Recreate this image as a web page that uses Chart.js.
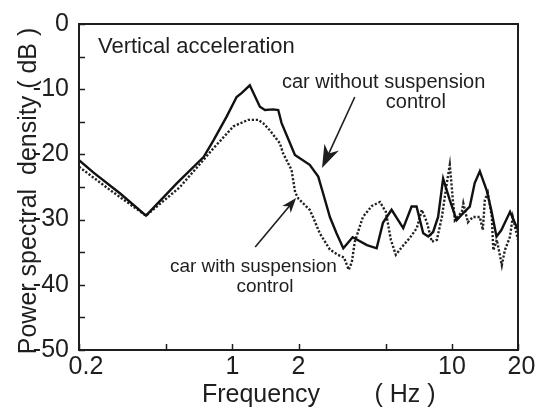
<!DOCTYPE html>
<html>
<head>
<meta charset="utf-8">
<script src="https://cdn.jsdelivr.net/npm/chart.js@4.4.1/dist/chart.umd.min.js"></script>
<style>
  html, body { margin: 0; padding: 0; background: #fff; }
  #wrap { width: 539px; height: 413px; }
</style>
</head>
<body>
<div id="wrap"><canvas id="psd" width="539" height="413"></canvas></div>
<script>
/* ===== PSD of vertical acceleration, with / without suspension control ===== */

// car without suspension control (solid)
const freqWithout = [0.2, 0.233, 0.308, 0.404, 0.559, 0.739, 0.821, 0.941, 1.045, 1.10, 1.20, 1.334, 1.406, 1.534, 1.617, 1.675, 1.83, 1.926, 2.25, 2.46, 2.59, 2.78, 2.98, 3.2, 3.53, 4.10, 4.54, 4.85, 5.31, 6.0, 6.55, 6.90, 7.40, 7.80, 8.21, 8.65, 9.12, 9.78, 10.5, 11.25, 12.06, 12.7, 13.4, 14.4, 15.1, 15.96, 16.8, 18.4, 20];
const dbWithout   = [-20.9, -22.8, -26.0, -29.4, -24.4, -20.4, -17.8, -14.2, -11.2, -10.6, -9.4, -12.7, -13.2, -13.1, -13.2, -15.2, -18.3, -20.1, -21.6, -23.4, -26.0, -29.6, -32.1, -34.4, -32.7, -33.9, -34.4, -30.5, -28.5, -31.3, -28.0, -28.0, -32.1, -32.6, -31.9, -29.6, -23.7, -27.0, -30.1, -29.0, -28.0, -24.4, -22.6, -25.5, -28.5, -32.6, -31.6, -28.8, -31.6];

// car with suspension control (dotted)
const freqWith = [0.2, 0.278, 0.404, 0.577, 0.818, 1.01, 1.18, 1.31, 1.38, 1.48, 1.645, 1.70, 1.86, 1.93, 2.0, 2.25, 2.33, 2.50, 2.78, 3.02, 3.22, 3.39, 3.50, 3.61, 3.93, 4.32, 4.70, 5.00, 5.27, 5.55, 5.92, 6.43, 6.92, 7.29, 7.69, 8.10, 8.54, 9.00, 9.48, 9.78, 10.10, 10.31, 11.10, 11.27, 11.82, 12.45, 13.40, 13.83, 14.12, 14.57, 15.20, 15.44, 16.02, 16.88, 17.42, 18.36, 18.94, 20];
const dbWith   = [-21.9, -25.5, -29.4, -25.0, -19.1, -15.7, -14.7, -14.7, -15.2, -16.3, -18.3, -19.8, -22.4, -25.8, -26.8, -28.5, -29.6, -32.1, -34.6, -35.4, -35.8, -37.7, -36.5, -33.4, -29.6, -27.9, -27.3, -28.8, -33.1, -35.4, -34.2, -32.8, -31.3, -28.5, -30.4, -33.4, -33.1, -29.6, -24.4, -21.6, -27.0, -30.1, -28.8, -27.5, -30.4, -29.6, -29.6, -31.6, -27.0, -25.9, -29.6, -34.7, -33.1, -37.0, -34.7, -32.7, -29.6, -33.1];

// axes
const xTickValues = [0.2, 0.5, 1, 2, 5, 10, 20];
const xTickLabels = ['  0.2', '', '1', '2', '', '10', ' 20'];
const yMajor = [-50, -40, -30, -20, -10, 0];
const yMinor = [-45, -35, -25, -15, -5];

const INK = '#1e1e1e';
const FONT = '"Liberation Sans", Arial, Helvetica, sans-serif';

const toPoints = (xs, ys) => xs.map((x, i) => ({ x: x, y: ys[i] }));

// text + arrow callouts (positions in data units)
const notes = [
  { text: 'Vertical acceleration', x: 0.244, y: -4.45, size: 22, align: 'left' },
  { text: 'car without suspension', x: 1.68, y: -9.8, size: 20, align: 'left' },
  { text: 'control', x: 6.85, y: -12.9, size: 20, align: 'center' },
  { text: 'car with suspension', x: 0.519, y: -38.0, size: 19, align: 'left' },
  { text: 'control', x: 1.406, y: -41.1, size: 19, align: 'center' }
];
const arrows = [
  { from: [3.61, -11.2], to: [2.56, -22.1], head: 23, half: 8 },
  { from: [1.27, -34.2], to: [1.95, -26.7], head: 15, half: 5.5 }
];

const framePlugin = {
  id: 'frame',
  afterDraw(chart) {
    const { ctx, chartArea: a, scales } = chart;
    const xs = scales.x, ys = scales.y;
    ctx.save();
    ctx.strokeStyle = INK;
    ctx.lineWidth = 2;
    ctx.strokeRect(a.left, a.top, a.right - a.left, a.bottom - a.top);

    // inward tick marks
    ctx.lineWidth = 1.5;
    ctx.beginPath();
    xTickValues.forEach(v => {
      const px = Math.round(xs.getPixelForValue(v)) + 0.5;
      ctx.moveTo(px, a.bottom);
      ctx.lineTo(px, a.bottom - 6);
    });
    yMajor.concat(yMinor).forEach(v => {
      const py = Math.round(ys.getPixelForValue(v)) + 0.5;
      ctx.moveTo(a.left, py);
      ctx.lineTo(a.left + 6, py);
    });
    ctx.stroke();

    // axis titles
    ctx.fillStyle = INK;
    ctx.font = '25px ' + FONT;
    ctx.textAlign = 'center';
    ctx.textBaseline = 'alphabetic';
    ctx.fillText('Frequency', 261, 402);
    ctx.fillText('( Hz )', 405, 402);
    ctx.save();
    ctx.translate(36, 191);
    ctx.rotate(-Math.PI / 2);
    ctx.fillText('Power spectral  density ( dB )', 0, 0);
    ctx.restore();

    // callout texts
    notes.forEach(n => {
      ctx.font = n.size + 'px ' + FONT;
      ctx.textAlign = n.align;
      ctx.fillText(n.text, xs.getPixelForValue(n.x), ys.getPixelForValue(n.y));
    });

    // arrows
    arrows.forEach(ar => {
      const x0 = xs.getPixelForValue(ar.from[0]), y0 = ys.getPixelForValue(ar.from[1]);
      const x1 = xs.getPixelForValue(ar.to[0]), y1 = ys.getPixelForValue(ar.to[1]);
      const ang = Math.atan2(y1 - y0, x1 - x0);
      const c = Math.cos(ang), s = Math.sin(ang);
      ctx.lineWidth = 1.6;
      ctx.beginPath();
      ctx.moveTo(x0, y0);
      ctx.lineTo(x1 - c * ar.head * 0.6, y1 - s * ar.head * 0.6);
      ctx.stroke();
      const bx = x1 - c * ar.head, by = y1 - s * ar.head;
      ctx.beginPath();
      ctx.moveTo(x1, y1);
      ctx.lineTo(bx - s * ar.half, by + c * ar.half);
      ctx.lineTo(x1 - c * ar.head * 0.7, y1 - s * ar.head * 0.7);
      ctx.lineTo(bx + s * ar.half, by - c * ar.half);
      ctx.closePath();
      ctx.fill();
    });
    ctx.restore();
  }
};

new Chart(document.getElementById('psd').getContext('2d'), {
  type: 'line',
  data: {
    datasets: [
      {
        label: 'car without suspension control',
        data: toPoints(freqWithout, dbWithout),
        borderColor: '#111',
        borderWidth: 2.4,
        pointRadius: 0,
        tension: 0,
        fill: false
      },
      {
        label: 'car with suspension control',
        data: toPoints(freqWith, dbWith),
        borderColor: '#222',
        borderWidth: 2.4,
        borderDash: [2.2, 1.8],
        pointRadius: 0,
        tension: 0,
        fill: false
      }
    ]
  },
  options: {
    responsive: false,
    animation: false,
    devicePixelRatio: 1,
    layout: { padding: { top: 24, right: 21, left: 0, bottom: 0 } },
    plugins: { legend: { display: false }, tooltip: { enabled: false } },
    scales: {
      x: {
        type: 'logarithmic',
        min: 0.2,
        max: 20,
        grid: { display: false },
        border: { display: false },
        afterBuildTicks: s => { s.ticks = xTickValues.map(v => ({ value: v })); },
        afterFit: s => { s.height = 63; },
        ticks: {
          autoSkip: false,
          maxRotation: 0,
          padding: -6,
          color: INK,
          font: { size: 25, family: FONT },
          callback: v => {
            const i = xTickValues.indexOf(v);
            return i >= 0 ? xTickLabels[i] : '';
          }
        }
      },
      y: {
        min: -50,
        max: 0,
        grid: { display: false },
        border: { display: false },
        afterFit: s => { s.width = 79; },
        ticks: {
          stepSize: 10,
          padding: 2,
          color: INK,
          font: { size: 25, family: FONT },
          callback: v => String(v)
        }
      }
    }
  },
  plugins: [framePlugin]
});
</script>
</body>
</html>
